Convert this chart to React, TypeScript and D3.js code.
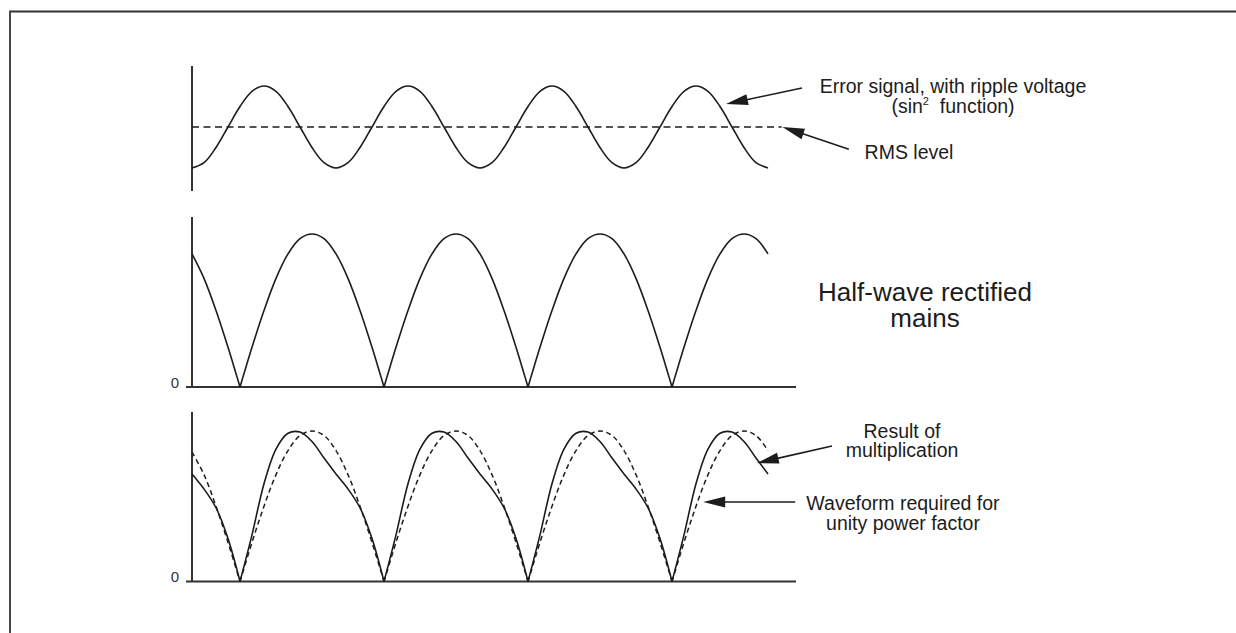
import React, { useEffect } from "react";
import * as d3 from "d3";

// ---- Data ----
// Phase axis in degrees of the mains waveform; 0 = the vertical axis.
const phaseDeg = [
  0, 15, 30, 45, 60, 75, 90, 105, 120, 135, 150, 165,
  180, 195, 210, 225, 240, 255, 270, 285, 300, 315, 330, 345,
  360, 375, 390, 405, 420, 435, 450, 465, 480, 495, 510, 525,
  540, 555, 570, 585, 600, 615, 630, 645, 660, 675, 690, 705, 720,
];

// Top panel: error signal with ripple (normalised, -1 = trough, 1 = crest)
const errorSignal = [
  -1, -0.87, -0.5, 0, 0.5, 0.87, 1, 0.87, 0.5, 0, -0.5, -0.87,
  -1, -0.87, -0.5, 0, 0.5, 0.87, 1, 0.87, 0.5, 0, -0.5, -0.87,
  -1, -0.87, -0.5, 0, 0.5, 0.87, 1, 0.87, 0.5, 0, -0.5, -0.87,
  -1, -0.87, -0.5, 0, 0.5, 0.87, 1, 0.87, 0.5, 0, -0.5, -0.87, -1,
];
const rmsLevel = 0;
const rmsEndDeg = 737;

// Middle panel: half-wave rectified mains (0 = baseline, 1 = peak)
const rectifiedMains = [
  0.87, 0.71, 0.5, 0.26, 0, 0.26, 0.5, 0.71, 0.87, 0.97, 1, 0.97,
  0.87, 0.71, 0.5, 0.26, 0, 0.26, 0.5, 0.71, 0.87, 0.97, 1, 0.97,
  0.87, 0.71, 0.5, 0.26, 0, 0.26, 0.5, 0.71, 0.87, 0.97, 1, 0.97,
  0.87, 0.71, 0.5, 0.26, 0, 0.26, 0.5, 0.71, 0.87, 0.97, 1, 0.97, 0.87,
];

// Bottom panel: result of multiplication (solid)
const multiplicationResult = [
  0.715, 0.615, 0.49, 0.285, 0, 0.31, 0.65, 0.88, 0.985, 0.993, 0.93, 0.82,
  0.715, 0.615, 0.49, 0.285, 0, 0.31, 0.65, 0.88, 0.985, 0.993, 0.93, 0.82,
  0.715, 0.615, 0.49, 0.285, 0, 0.31, 0.65, 0.88, 0.985, 0.993, 0.93, 0.82,
  0.715, 0.615, 0.49, 0.285, 0, 0.31, 0.65, 0.88, 0.985, 0.993, 0.93, 0.82, 0.715,
];

// Bottom panel: waveform required for unity power factor (dashed)
const unityPfWaveform = [
  0.86, 0.71, 0.5, 0.26, 0, 0.26, 0.5, 0.71, 0.87, 0.97, 1, 0.97,
  0.87, 0.71, 0.5, 0.26, 0, 0.26, 0.5, 0.71, 0.87, 0.97, 1, 0.97,
  0.87, 0.71, 0.5, 0.26, 0, 0.26, 0.5, 0.71, 0.87, 0.97, 1, 0.97,
  0.87, 0.71, 0.5, 0.26, 0, 0.26, 0.5, 0.71, 0.87, 0.97, 1, 0.97, 0.87,
];

const zeroLabel = "0";

// ---- Layout ----
const W = 1236;
const H = 633;
const FONT = "'Liberation Sans', Arial, Helvetica, sans-serif";
const INK = "#1c1c1c";
const AXIS = "#333";

const x = d3.scaleLinear().domain([0, 720]).range([192, 768]);
const yTop = d3.scaleLinear().domain([-1, 1]).range([168, 86]);
const yMid = d3.scaleLinear().domain([0, 1]).range([387, 234]);
const yBot = d3.scaleLinear().domain([0, 1]).range([581.5, 431]);

type Pt = [number, number];

function zip(values: number[]): Pt[] {
  return phaseDeg.map((d, i) => [d, values[i]] as Pt);
}

// split at cusps (zero values) so that the corners stay sharp
function splitAtZeros(pts: Pt[]): Pt[][] {
  const segs: Pt[][] = [];
  let cur: Pt[] = [];
  pts.forEach((p, i) => {
    cur.push(p);
    if (p[1] === 0 && i > 0 && i < pts.length - 1) {
      segs.push(cur);
      cur = [p];
    }
  });
  if (cur.length > 1) segs.push(cur);
  return segs;
}

function pathFor(pts: Pt[], y: d3.ScaleLinear<number, number>, split: boolean) {
  const line = d3
    .line<Pt>()
    .x((d) => x(d[0]))
    .y((d) => y(d[1]))
    .curve(d3.curveCatmullRom.alpha(0.5));
  const segs = split ? splitAtZeros(pts) : [pts];
  return segs.map((s) => line(s) || "").join("");
}

function Arrow({ tail, tip }: { tail: Pt; tip: Pt }) {
  const [x1, y1] = tail;
  const [x2, y2] = tip;
  const dx = x2 - x1;
  const dy = y2 - y1;
  const len = Math.hypot(dx, dy);
  const ux = dx / len;
  const uy = dy / len;
  const hl = 22;
  const hw = 5.5;
  const bx = x2 - ux * hl;
  const by = y2 - uy * hl;
  const pts = [
    [x2, y2],
    [bx - uy * hw, by + ux * hw],
    [bx + uy * hw, by - ux * hw],
  ]
    .map((p) => p.join(","))
    .join(" ");
  return (
    <g>
      <line x1={x1} y1={y1} x2={bx + ux * 2} y2={by + uy * 2} stroke={INK} strokeWidth={1.6} />
      <polygon points={pts} fill={INK} />
    </g>
  );
}

export default function App() {
  useEffect(() => {
    document.body.style.margin = "0";
    document.documentElement.style.overflow = "hidden";
    document.body.style.overflow = "hidden";
  }, []);

  const top = zip(errorSignal);
  const mid = zip(rectifiedMains);
  const res = zip(multiplicationResult);
  const pf = zip(unityPfWaveform);

  const axisX = x(0);
  const baseStart = axisX - 6;
  const baseEnd = 796;

  return (
    <svg
      width={W}
      height={H}
      viewBox={`0 0 ${W} ${H}`}
      style={{ position: "absolute", left: 0, top: 0, display: "block", background: "#fff", overflow: "hidden" }}
      fontFamily={FONT}
    >
      <rect x={0} y={0} width={W} height={H} fill="#fff" />
      {/* figure frame (cropped at right and bottom) */}
      <path d={`M10,${H} V11.5 H${W}`} fill="none" stroke={AXIS} strokeWidth={1.8} />

      {/* ---- Top panel ---- */}
      <line x1={axisX} x2={axisX} y1={66} y2={191} stroke={AXIS} strokeWidth={2} />
      <path d={pathFor(top, yTop, false)} fill="none" stroke={INK} strokeWidth={1.6} />
      <line
        x1={axisX}
        x2={x(rmsEndDeg)}
        y1={yTop(rmsLevel)}
        y2={yTop(rmsLevel)}
        stroke={INK}
        strokeWidth={1.6}
        strokeDasharray="7 4.5"
      />
      <Arrow tail={[x(762.5), yTop(0.95)]} tip={[x(667.5), yTop(0.56)]} />
      <Arrow tail={[x(821), yTop(-0.54)]} tip={[x(rmsEndDeg + 1), yTop(rmsLevel)]} />
      <text fontSize={19.5} fill={INK} textAnchor="middle">
        <tspan x={953} y={93}>Error signal, with ripple voltage</tspan>
        <tspan x={953} y={113}>
          (sin
          <tspan fontSize={11} dy={-8}>2</tspan>
          <tspan dy={8}>{"\u00A0 function)"}</tspan>
        </tspan>
      </text>
      <text x={909} y={159} fontSize={19.5} fill={INK} textAnchor="middle">
        RMS level
      </text>

      {/* ---- Middle panel ---- */}
      <line x1={axisX} x2={axisX} y1={217} y2={yMid(0)} stroke={AXIS} strokeWidth={2} />
      <line x1={baseStart} x2={baseEnd} y1={yMid(0)} y2={yMid(0)} stroke={AXIS} strokeWidth={2} />
      <path d={pathFor(mid, yMid, true)} fill="none" stroke={INK} strokeWidth={1.6} />
      <text x={179} y={yMid(0) + 1} fontSize={15} fill={AXIS} textAnchor="end">
        {zeroLabel}
      </text>
      <text fontSize={26} fill={INK} textAnchor="middle">
        <tspan x={925} y={301}>Half-wave rectified</tspan>
        <tspan x={925} y={327}>mains</tspan>
      </text>

      {/* ---- Bottom panel ---- */}
      <line x1={axisX} x2={axisX} y1={412} y2={yBot(0)} stroke={AXIS} strokeWidth={2} />
      <line x1={baseStart} x2={baseEnd} y1={yBot(0)} y2={yBot(0)} stroke={AXIS} strokeWidth={2} />
      <path
        d={pathFor(pf, yBot, true)}
        fill="none"
        stroke={INK}
        strokeWidth={1.5}
        strokeDasharray="5 3.5"
      />
      <path d={pathFor(res, yBot, true)} fill="none" stroke={INK} strokeWidth={1.6} />
      <text x={179} y={yBot(0)} fontSize={15} fill={AXIS} textAnchor="end">
        {zeroLabel}
      </text>
      <Arrow tail={[x(800), yBot(0.9)]} tip={[x(706), yBot(0.787)]} />
      <Arrow tail={[x(754), yBot(0.528)]} tip={[x(639), yBot(0.528)]} />
      <text fontSize={19.5} fill={INK} textAnchor="middle">
        <tspan x={902} y={438}>Result of</tspan>
        <tspan x={902} y={457}>multiplication</tspan>
      </text>
      <text fontSize={19.5} fill={INK} textAnchor="middle">
        <tspan x={903} y={510}>Waveform required for</tspan>
        <tspan x={903} y={530}>unity power factor</tspan>
      </text>
    </svg>
  );
}
